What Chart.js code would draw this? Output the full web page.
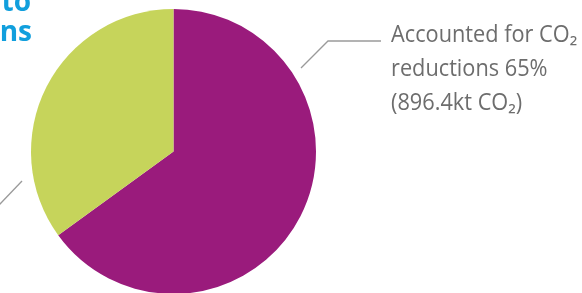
<!DOCTYPE html>
<html>
<head>
<meta charset="utf-8">
<script src="https://cdn.jsdelivr.net/npm/chart.js@4"></script>
<style>
html,body{margin:0;padding:0;background:#fff;overflow:hidden;}
#wrap{position:relative;width:582px;height:294px;}
</style>
</head>
<body>
<div id="wrap"><canvas id="c"></canvas></div>
<script>
const categories = ['Accounted for CO₂ reductions', 'Other'];
const shares = [65, 35];
const colours = ['#9a1b7c', '#c6d45b'];
const labelLines = ['Accounted for CO₂', 'reductions 65%', '(896.4kt CO₂)'];
const titleLines = ['Contribution to', 'CO₂ reductions'];

const annotate = {
  id: 'annotate',
  afterDraw(chart) {
    const ctx = chart.ctx;
    ctx.save();
    ctx.strokeStyle = '#9a9a9a';
    ctx.lineWidth = 1.3;
    ctx.beginPath();
    ctx.moveTo(301, 68);
    ctx.lineTo(328, 41);
    ctx.lineTo(381, 41);
    ctx.stroke();
    ctx.beginPath();
    ctx.moveTo(-1, 205);
    ctx.lineTo(22, 181);
    ctx.stroke();
    ctx.fillStyle = '#6d6d6d';
    ctx.font = '23px "Open Sans"';
    ctx.textAlign = 'left';
    ctx.textBaseline = 'alphabetic';
    const ys = [42, 76, 110];
    labelLines.forEach((t, i) => {
      ctx.save();
      ctx.translate(391, ys[i]);
      ctx.scale(0.945, 1);
      ctx.fillText(t, 0, 0);
      ctx.restore();
    });
    ctx.fillStyle = '#119fdd';
    ctx.font = 'bold 28px "Open Sans"';
    ctx.textAlign = 'right';
    ctx.fillText(titleLines[0], 31, 11);
    ctx.fillText(titleLines[1], 32, 41);
    ctx.restore();
  }
};

new Chart(document.getElementById('c'), {
  type: 'pie',
  data: {
    labels: categories,
    datasets: [{ data: shares, backgroundColor: colours, borderWidth: 0 }]
  },
  options: {
    responsive: true,
    maintainAspectRatio: false,
    animation: false,
    layout: { padding: { left: 31, top: 9, right: 266, bottom: 0 } },
    plugins: { legend: { display: false }, tooltip: { enabled: false } }
  },
  plugins: [annotate]
});
</script>
</body>
</html>
